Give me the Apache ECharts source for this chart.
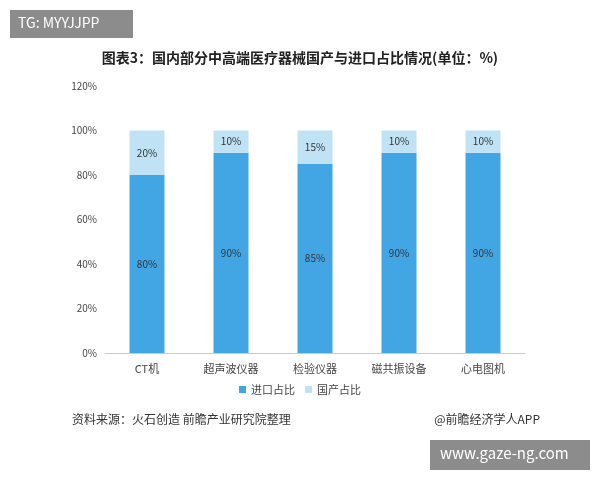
<!DOCTYPE html>
<html><head><meta charset="utf-8">
<script src="https://cdn.jsdelivr.net/npm/echarts@6/dist/echarts.min.js"></script>
<style>html,body{margin:0;padding:0;background:#fff}#c{width:600px;height:480px}</style>
</head><body><div id="c"></div>
<script>
const categories = ['CT机','超声波仪器','检验仪器','磁共振设备','心电图机'];
const importShare = [80,90,85,90,90];
const domesticShare = [20,10,15,10,10];
const yTicks = [0,20,40,60,80,100,120];
const chart = echarts.init(document.getElementById('c'));
const f = '"Noto Sans CJK SC", sans-serif';
chart.setOption({
  textStyle:{fontFamily:f},
  graphic:[
    {type:'rect',shape:{x:10,y:10,width:123,height:28},style:{fill:'#8c8c8c'}},
    {type:'text',left:18,top:16,style:{text:'TG: MYYJJPP',fill:'#fff',font:'14px '+f}},
    {type:'text',left:72,top:413,style:{text:'资料来源：火石创造 前瞻产业研究院整理',fill:'#333',font:'12px '+f}},
    {type:'text',right:60,top:413,style:{text:'@前瞻经济学人APP',fill:'#333',font:'12px '+f}},
    {type:'rect',shape:{x:430,y:440,width:160,height:30},style:{fill:'#8c8c8c'}},
    {type:'text',left:440,top:446,style:{text:'www.gaze-ng.com',fill:'#fff',font:'15px '+f}}
  ],
  title:{text:'图表3：国内部分中高端医疗器械国产与进口占比情况(单位：%)',left:'center',top:46,
    textStyle:{fontSize:14,fontWeight:'bold',color:'#222',fontFamily:f}},
  legend:{bottom:80,itemWidth:7,itemHeight:7,itemGap:10,icon:'rect',textStyle:{fontSize:11,color:'#444'},
    data:['进口占比','国产占比']},
  grid:{left:105,right:75,top:86,bottom:127},
  xAxis:{type:'category',data:categories,axisTick:{show:false},axisLine:{lineStyle:{color:'#ccc'}},
    axisLabel:{color:'#444',fontSize:11,margin:10}},
  yAxis:{type:'value',min:0,max:120,interval:20,axisLabel:{formatter:'{value}%',color:'#444',fontSize:10},
    splitLine:{show:false},axisLine:{show:false}},
  series:[
    {name:'进口占比',type:'bar',stack:'a',barWidth:35,data:importShare,itemStyle:{color:'#42a6e5'},
     label:{show:true,position:'inside',formatter:'{c}%',color:'#333',fontSize:10}},
    {name:'国产占比',type:'bar',stack:'a',barWidth:35,data:domesticShare,itemStyle:{color:'#bfe3f5'},
     label:{show:true,position:'inside',formatter:'{c}%',color:'#333',fontSize:10}}
  ]
});
</script></body></html>
